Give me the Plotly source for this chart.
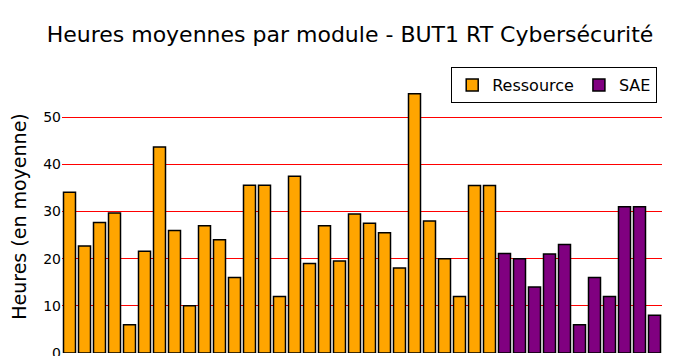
import plotly.graph_objects as go

ressource_labels = [
    "R1.01", "R1.02", "R1.03", "R1.04", "R1.05", "R1.06", "R1.07", "R1.08",
    "R1.09", "R1.10", "R1.11", "R1.12", "R1.13", "R1.14", "R1.15",
    "R2.01", "R2.02", "R2.03", "R2.04", "R2.05", "R2.06", "R2.07", "R2.08",
    "R2.09", "R2.10", "R2.11", "R2.12", "R2.13", "R2.14",
]
ressource_hours = [
    34.1, 22.7, 27.7, 29.7, 6.0, 21.6, 43.7, 26.0, 10.0, 27.0, 24.0, 16.0,
    35.6, 35.6, 12.0, 37.5, 19.0, 27.0, 19.5, 29.5, 27.5, 25.5, 18.0, 55.0,
    28.0, 20.0, 12.0, 35.5, 35.5,
]
sae_labels = [
    "SAE1.01", "SAE1.02", "SAE1.03", "SAE1.04", "SAE1.05", "SAE1.06",
    "SAE2.01", "SAE2.02", "SAE2.03", "SAE2.04", "SAE2.05",
]
sae_hours = [21.1, 20.0, 14.0, 21.0, 23.0, 6.0, 16.0, 12.0, 31.0, 31.0, 8.0]

FONT = "DejaVu Sans"

fig = go.Figure()
fig.add_trace(go.Bar(
    x=ressource_labels, y=ressource_hours, name="Ressource",
    marker=dict(color="#FFA500", line=dict(color="black", width=1.5)),
))
fig.add_trace(go.Bar(
    x=sae_labels, y=sae_hours, name="SAE",
    marker=dict(color="#800080", line=dict(color="black", width=1.5)),
))

fig.update_layout(
    width=700, height=600,
    margin=dict(l=54, r=46, t=72, b=255),
    paper_bgcolor="white", plot_bgcolor="white",
    barmode="overlay", bargap=0.2,
    font=dict(family=FONT, color="black", size=16),
    title=dict(text="Heures moyennes par module - BUT1 RT Cybersécurité",
               x=0.4886, xanchor="center", y=0.957, yanchor="middle",
               font=dict(family=FONT, size=22, color="black")),
    legend=dict(orientation="h", x=0.992, xanchor="right", y=1.0475, yanchor="top",
                bordercolor="black", borderwidth=1, bgcolor="white",
                font=dict(family=FONT, size=16)),
    xaxis=dict(tickangle=-45, showgrid=False, tickfont=dict(size=14)),
    yaxis=dict(title=dict(text="Heures (en moyenne)", font=dict(size=19), standoff=25),
               automargin=False,
               gridcolor="#FF0000", gridwidth=1, dtick=10, zeroline=False,
               tickfont=dict(size=14)),
)

fig.write_html("out.html")
